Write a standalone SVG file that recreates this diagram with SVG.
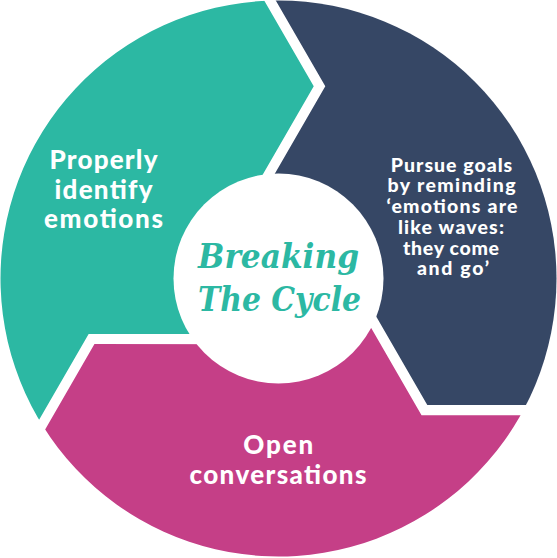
<svg xmlns="http://www.w3.org/2000/svg" width="557" height="558" viewBox="0 0 557 558">
<style>
.lbl{font-family:Lato,"Open Sans","DejaVu Sans",sans-serif;font-weight:900;fill:#ffffff;text-anchor:middle}
.big{font-size:26px}
.small{font-size:19.5px}
.title{font-family:"DejaVu Serif","Liberation Serif",serif;font-weight:700;font-style:italic;font-size:33px;fill:#2cb8a3;text-anchor:middle}
</style>
<defs>
<clipPath id="ring"><circle cx="278.5" cy="278.5" r="278"/></clipPath>
<path id="wedge" d="M225.3,-86.9 L325.3,86.3 L250.3,216.2 L278.5,278.5 L352.4,275.2 L427.3,405.1 L627.3,405.1 L668,53 Z"/>
</defs>
<rect width="557" height="558" fill="#ffffff"/>
<g id="identify">
<use href="#wedge" fill="#2cb8a3" transform="rotate(240 278.5 278.5)" clip-path="url(#ring)"/>
</g>
<g id="pursue">
<use href="#wedge" fill="#364765" clip-path="url(#ring)"/>
</g>
<g id="open">
<use href="#wedge" fill="#c53f87" transform="rotate(120 278.5 278.5)" clip-path="url(#ring)"/>
</g>
<g id="connectors"></g>
<g id="center">
<circle cx="278.5" cy="278.5" r="105" fill="#ffffff"/>
<text class="title" x="278.5" y="268" textLength="161" lengthAdjust="spacingAndGlyphs">Breaking</text>
<text class="title" x="279.5" y="310.5" textLength="163" lengthAdjust="spacingAndGlyphs">The Cycle</text>
</g>
<g id="identify-label">
<text class="lbl big" x="103.5" y="169" textLength="108">Properly</text>
<text class="lbl big" x="103.5" y="198.5" textLength="98">identify</text>
<text class="lbl big" x="103.5" y="228" textLength="119">emotions</text>
</g>
<g id="pursue-label">
<text class="lbl small" x="451.5" y="171.5" textLength="121.5">Pursue goals</text>
<text class="lbl small" x="451.5" y="192" textLength="128">by reminding</text>
<text class="lbl small" x="452" y="213" textLength="131">‘emotions are</text>
<text class="lbl small" x="451" y="233.7" textLength="106">like waves:</text>
<text class="lbl small" x="451" y="254.5" textLength="96">they come</text>
<text class="lbl small" x="453" y="275.3" textLength="72">and go’</text>
</g>
<g id="open-label">
<text class="lbl big" x="278.3" y="454.3" textLength="70">Open</text>
<text class="lbl big" x="278" y="484" textLength="177">conversations</text>
</g>
</svg>
